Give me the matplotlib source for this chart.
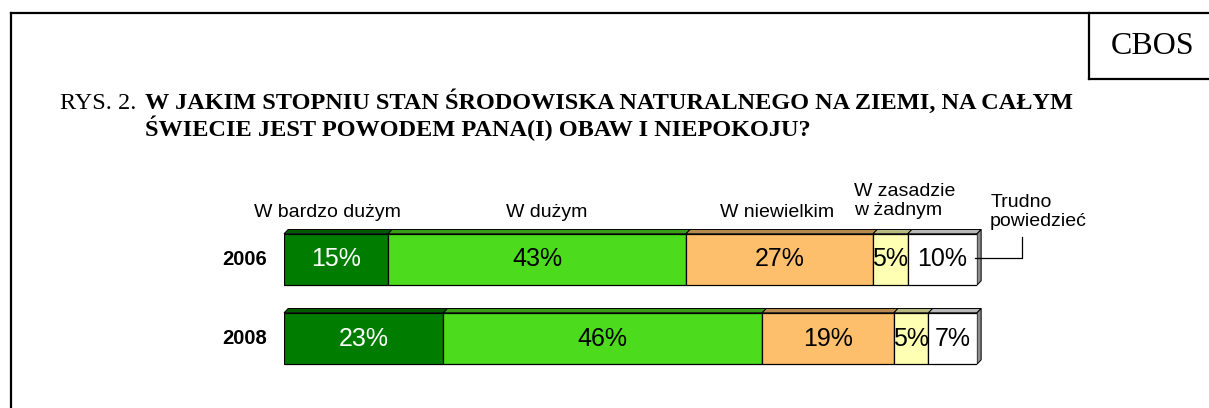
import numpy as np
import matplotlib
matplotlib.use("Agg")
import matplotlib.pyplot as plt
from matplotlib.patches import Polygon
from matplotlib.colors import to_rgb
from matplotlib.lines import Line2D

# dane
years = ["2006", "2008"]
categories = ["W bardzo dużym", "W dużym", "W niewielkim",
              "W zasadzie\nw żadnym", "Trudno\npowiedzieć"]
values_2006 = [15, 43, 27, 5, 10]
values_2008 = [23, 46, 19, 5, 7]
colors = ["#007d00", "#4ddb1d", "#fdbf6b", "#ffffb3", "#ffffff"]
text_colors = ["white", "black", "black", "black", "black"]
title_prefix = "RYS. 2."
title_line1 = "W JAKIM STOPNIU STAN ŚRODOWISKA NATURALNEGO NA ZIEMI, NA CAŁYM"
title_line2 = "ŚWIECIE JEST POWODEM PANA(I) OBAW I NIEPOKOJU?"
source = "CBOS"

W, H = 1209, 408
SANS = ["Liberation Sans", "DejaVu Sans"]
SERIF = ["Liberation Serif", "DejaVu Serif"]


def fx(px):
    return px / W


def fy(py):
    return 1 - py / H


fig = plt.figure(figsize=(W / 100, H / 100), dpi=100)

# ramka i pole CBOS
lw = 1.6
fig.add_artist(Line2D([fx(11), fx(11)], [fy(13), fy(410)], color="k", lw=lw))
fig.add_artist(Line2D([fx(11), fx(1212)], [fy(13), fy(13)], color="k", lw=lw))
fig.add_artist(Line2D([fx(1089), fx(1089)], [fy(13), fy(79)], color="k", lw=lw))
fig.add_artist(Line2D([fx(1089), fx(1212)], [fy(79), fy(79)], color="k", lw=lw))
fig.text(fx(1153), fy(46), source, family=SERIF, fontsize=23, ha="center", va="center")

# tytuł
fig.text(fx(60), fy(109), title_prefix, family=SERIF, fontsize=17.5, va="baseline")
fig.text(fx(145), fy(109), title_line1, family=SERIF, fontsize=17.5,
         fontweight="bold", va="baseline")
fig.text(fx(145), fy(136), title_line2, family=SERIF, fontsize=17.5,
         fontweight="bold", va="baseline")

# wykres
top_px, bot_px = 180, 400
ax = fig.add_axes([fx(284), fy(bot_px), (977 - 284) / W, (bot_px - top_px) / H])
unit = 79.0
ax.set_xlim(0, 100)
ax.set_ylim((bot_px - 259.5) / unit, -(259.5 - top_px) / unit)
ax.axis("off")

data = [values_2006, values_2008]
bar_h = 0.65
dx, dy = 0.6, 0.055

for i, vals in enumerate(data):
    left = np.concatenate([[0], np.cumsum(vals)[:-1]])
    ax.barh(i, vals, left=left, height=bar_h, color=colors,
            edgecolor="black", linewidth=0.9, zorder=2)
    top = i - bar_h / 2
    for j, (l, v) in enumerate(zip(left, vals)):
        dark = tuple(c * 0.72 for c in to_rgb(colors[j]))
        ax.add_patch(Polygon([(l, top), (l + v, top), (l + v + dx, top - dy),
                              (l + dx, top - dy)], closed=True, facecolor=dark,
                             edgecolor="black", linewidth=0.7, zorder=1,
                             clip_on=False))
        ax.text(l + v / 2, i, f"{v}%", ha="center", va="center",
                family=SANS, fontsize=18, color=text_colors[j], zorder=3)
    end = left[-1] + vals[-1]
    ax.add_patch(Polygon([(end, top), (end + dx, top - dy),
                          (end + dx, i + bar_h / 2 - dy), (end, i + bar_h / 2)],
                         closed=True, facecolor="#8c8c8c", edgecolor="black",
                         linewidth=0.7, zorder=1, clip_on=False))
    ax.text(-2.5, i, years[i], ha="right", va="center", family=SANS,
            fontsize=14.5, fontweight="bold")

# etykiety kategorii (nad słupkiem 2006)
left06 = np.concatenate([[0], np.cumsum(values_2006)[:-1]])
label_dx = [-1.2, 1.4, -0.4, 2.0, 0]
label_y = [-0.59, -0.59, -0.59, -0.74, -0.60]
for j, cat in enumerate(categories):
    if j == len(categories) - 1:
        ax.text(101.9, label_y[j], cat, ha="left", va="center", family=SANS,
                fontsize=14, clip_on=False)
    else:
        ax.text(left06[j] + values_2006[j] / 2 + label_dx[j], label_y[j], cat,
                ha="center", va="center", family=SANS, fontsize=14,
                multialignment="left", clip_on=False)

# linia odniesienia do "Trudno powiedzieć"
ax.plot([99.7, 106.5, 106.5], [-0.02, -0.02, -0.285], color="k", lw=0.9,
        clip_on=False)

fig.savefig("out.png", dpi=100)
